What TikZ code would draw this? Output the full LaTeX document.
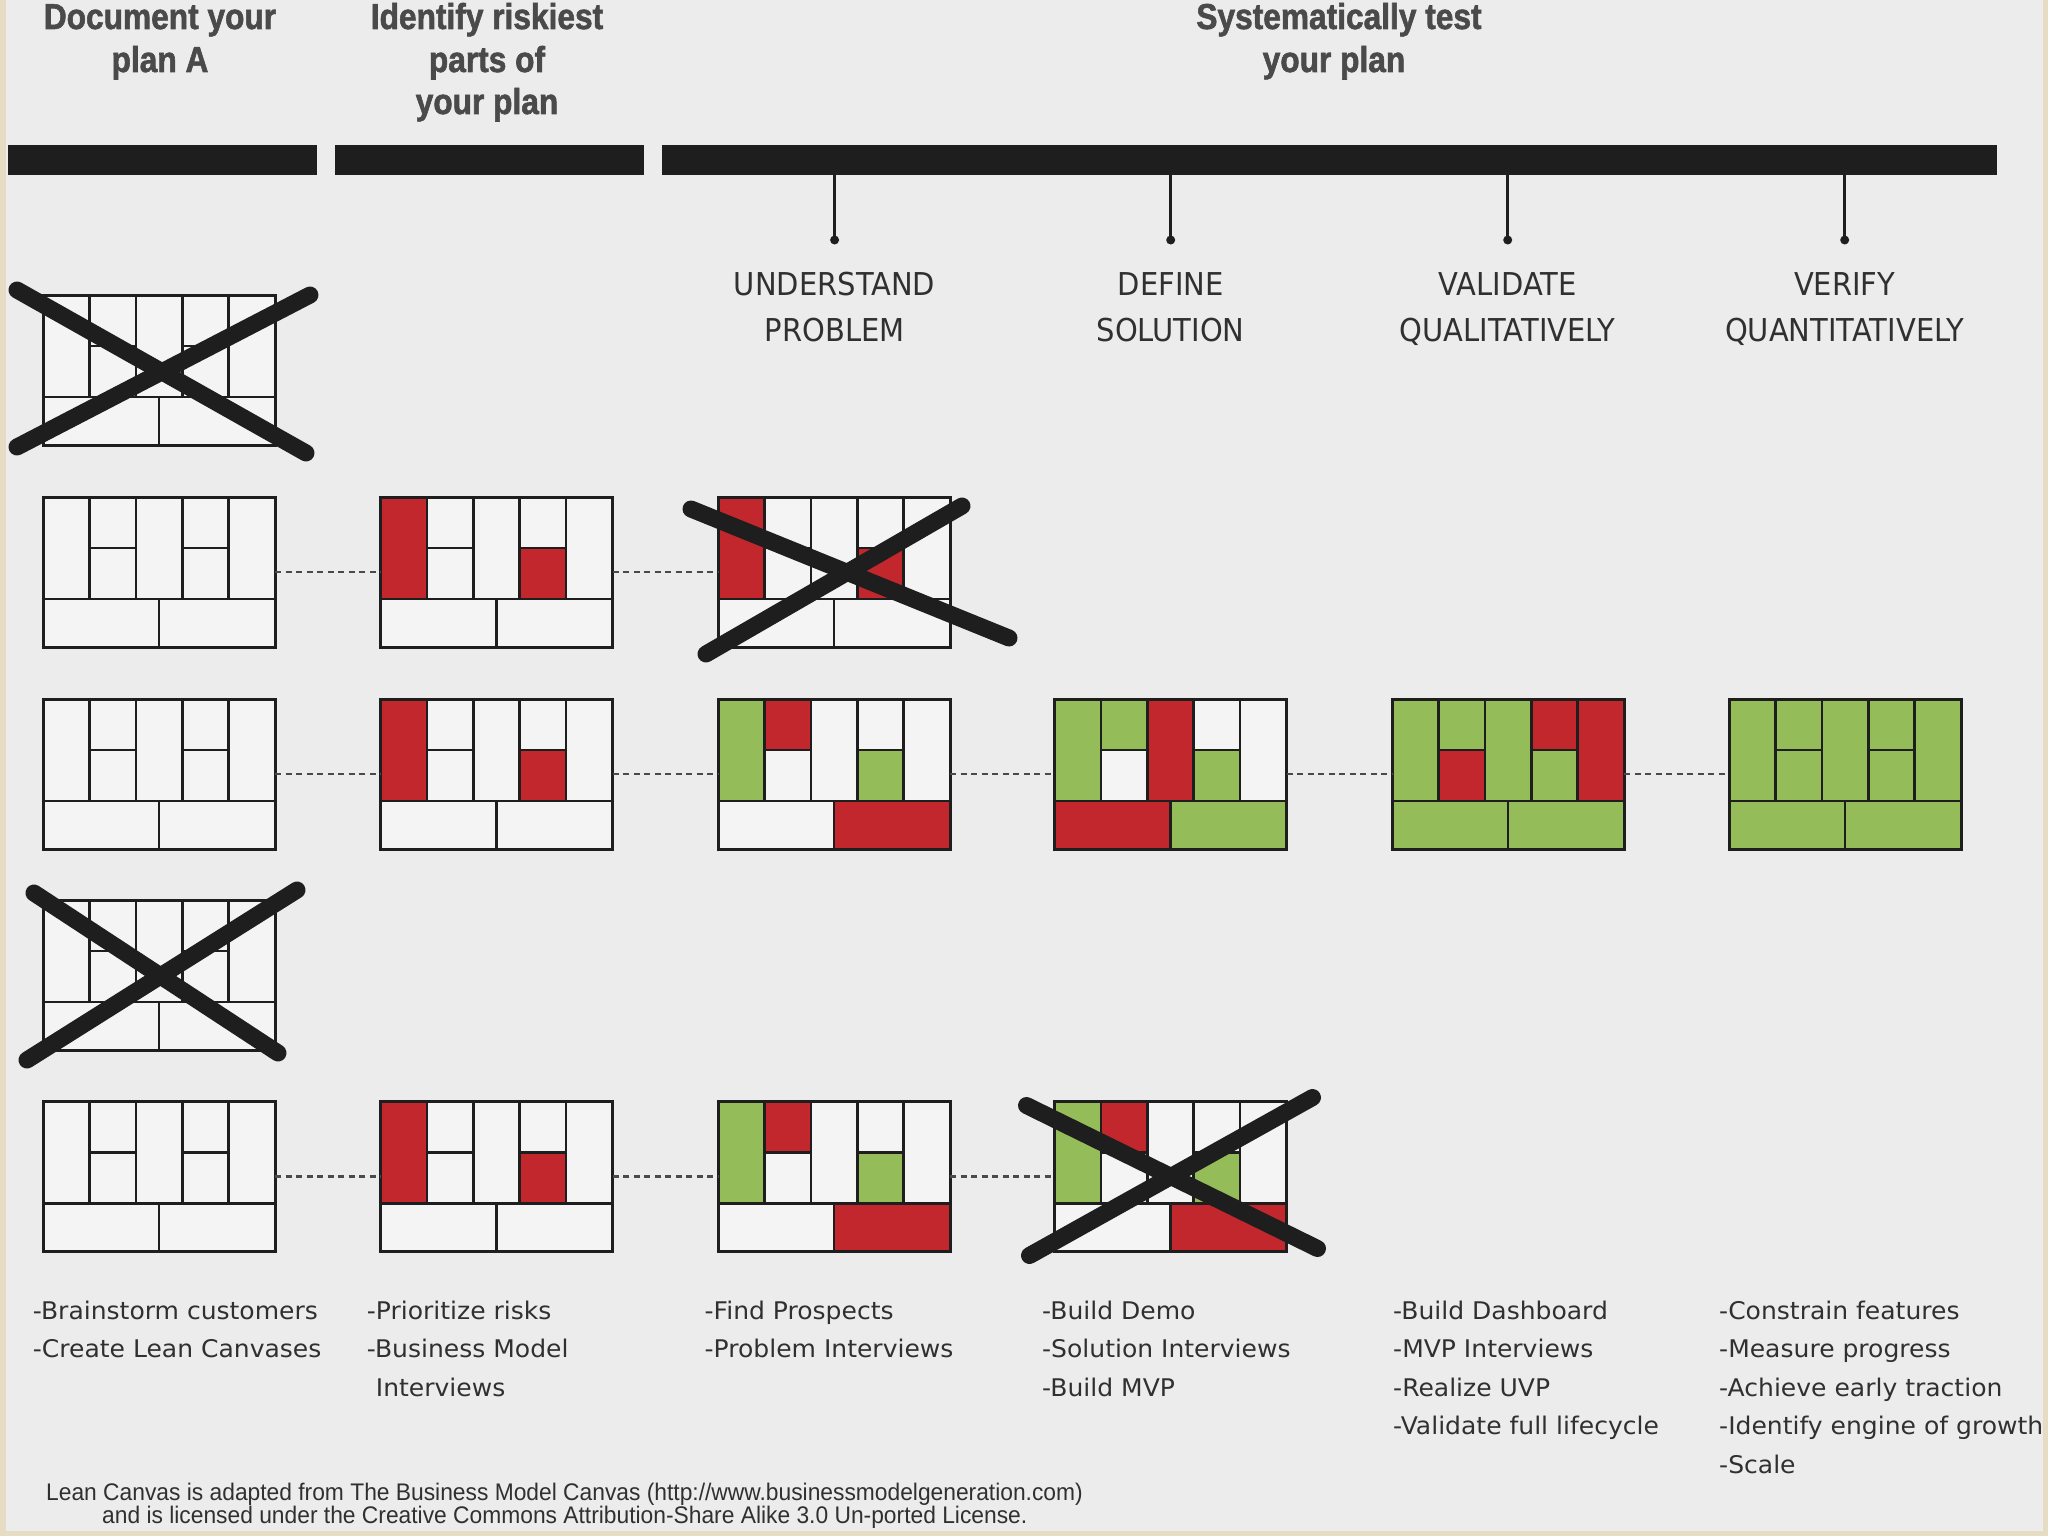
\documentclass[tikz,border=0pt]{standalone}
\usepackage{fontspec}
\newfontfamily\headfont{Liberation Sans}[FakeStretch=0.88,FakeBold=1.6]
\newfontfamily\labfont{DejaVu Sans}[FakeStretch=0.92]
\newfontfamily\listfont{DejaVu Sans}[FakeStretch=1.03]
\newfontfamily\notefont{Liberation Sans}[FakeStretch=0.95]
\definecolor{bg}{HTML}{ECECEC}
\definecolor{frame}{HTML}{E6DCC3}
\definecolor{cR}{HTML}{C1272D}
\definecolor{cG}{HTML}{94BD5A}
\definecolor{cW}{HTML}{F4F4F4}
\definecolor{ink}{HTML}{1E1E1E}
\definecolor{headgray}{HTML}{4A4A4A}
\definecolor{txt}{HTML}{303030}
\definecolor{dotgray}{HTML}{4A4A4A}
\tikzset{
  lcline/.style={draw=ink, line width=2.6pt},
  lcouter/.style={draw=ink, line width=3pt},
  lcbox/.style={inner sep=0pt, outer sep=0pt, minimum width=232pt, minimum height=150pt, fill=cW},
  conn/.style={draw=dotgray, line width=2.6pt, dash pattern=on 6pt off 4.5pt},
  xstroke/.style={draw=ink, line width=17pt, line cap=round},
  barbox/.style={fill=ink, inner sep=0pt, outer sep=0pt, minimum height=30pt},
  tickline/.style={draw=ink, line width=3pt},
  headtxt/.style={font=\headfont\bfseries\fontsize{36}{43}\selectfont, text=headgray, inner sep=0pt, anchor=base},
  labtxt/.style={font=\labfont\fontsize{31.5}{45}\selectfont, text=txt, inner sep=0pt, anchor=base},
  listtxt/.style={font=\listfont\fontsize{24.3}{38.5}\selectfont, text=txt, inner sep=0pt, anchor=base west},
  notetxt/.style={font=\notefont\fontsize{24}{23}\selectfont, text=txt, inner sep=0pt, anchor=base west},
}
\def\lcfill#1#2#3#4#5#6#7#8#9\relax{%
  \fill[c#1] (0,0) rectangle (46.4,102);
  \fill[c#2] (46.4,0) rectangle (92.8,51);
  \fill[c#3] (46.4,51) rectangle (92.8,102);
  \fill[c#4] (92.8,0) rectangle (139.2,102);
  \fill[c#5] (139.2,0) rectangle (185.6,51);
  \fill[c#6] (139.2,51) rectangle (185.6,102);
  \fill[c#7] (185.6,0) rectangle (232,102);
  \fill[c#8] (0,102) rectangle (116,150);
  \fill[c#9] (116,102) rectangle (232,150);
}
\newcommand\lc[4]{%
  \node[lcbox] (#1) at (#2,#3) {};
  \begin{scope}[shift={(#1.north west)}]
    \lcfill#4\relax
    \draw[lcline] (46.4,0)--(46.4,102) (92.8,0)--(92.8,102) (139.2,0)--(139.2,102)
      (185.6,0)--(185.6,102) (46.4,51)--(92.8,51) (139.2,51)--(185.6,51)
      (0,102)--(232,102) (116,102)--(116,150);
    \draw[lcouter] (0,0) rectangle (232,150);
  \end{scope}}
\begin{document}
\begin{tikzpicture}[x=1pt,y=-1pt]
\useasboundingbox (0,0) rectangle (2048,1536);
\fill[frame] (0,0) rectangle (2048,1536);
\fill[bg] (6,0) rectangle (2043,1531);

% header bars
\node[barbox, minimum width=309pt] (bar1) at (162.5,160) {};
\node[barbox, minimum width=309pt] (bar2) at (489.5,160) {};
\node[barbox, minimum width=1335pt] (bar3) at (1329,160) {};

% headers
\node[headtxt] (h1a) at (160,29) {Document your};
\node[headtxt] (h1b) at (160,72) {plan A};
\node[headtxt] (h2a) at (487,29) {Identify riskiest};
\node[headtxt] (h2b) at (487,72) {parts of};
\node[headtxt] (h2c) at (487,114) {your plan};
\node[headtxt] (h3a) at (1339,29) {Systematically test};
\node[headtxt] (h3b) at (1334,72) {your plan};

% ticks and stage labels
\foreach \x/\n/\a/\b in {834.6/1/UNDERSTAND/PROBLEM, 1170.7/2/DEFINE/SOLUTION, 1507.7/3/VALIDATE/QUALITATIVELY, 1844.7/4/VERIFY/QUANTITATIVELY}{
  \coordinate (t\n) at (\x,240);
  \draw[tickline] (t\n |- bar3.south) -- (t\n);
  \fill[ink] (t\n) circle (4.5);
  \node[labtxt] (s\n a) at (\x,295) {\a};
  \node[labtxt] (s\n b) at (\x,341) {\b};
}

% canvases
% order: col1, col2top, col2bot, col3, col4top, col4bot, col5, bottomleft, bottomright
\lc{r1c1}{159}{370}{WWWWWWWWW}
\lc{r2c1}{159}{572}{WWWWWWWWW}
\lc{r2c2}{496.5}{572}{RWWWWRWWW}
\lc{r2c3}{834}{572}{RWWWWRWWW}
\lc{r3c1}{159}{774}{WWWWWWWWW}
\lc{r3c2}{496.5}{774}{RWWWWRWWW}
\lc{r3c3}{834}{774}{GRWWWGWWR}
\lc{r3c4}{1170.5}{774}{GGWRWGWRG}
\lc{r3c5}{1508}{774}{GGRGRGRGG}
\lc{r3c6}{1845}{774}{GGGGGGGGG}
\lc{r4c1}{159}{975}{WWWWWWWWW}
\lc{r5c1}{159}{1176.5}{WWWWWWWWW}
\lc{r5c2}{496.5}{1176.5}{RWWWWRWWW}
\lc{r5c3}{834}{1176.5}{GRWWWGWWR}
\lc{r5c4}{1170.5}{1176.5}{GRWWWGWWR}

% dotted connectors
\draw[conn] (r2c1.east) -- (r2c2.west);
\draw[conn] (r2c2.east) -- (r2c3.west);
\draw[conn] (r3c1.east) -- (r3c2.west);
\draw[conn] (r3c2.east) -- (r3c3.west);
\draw[conn] (r3c3.east) -- (r3c4.west);
\draw[conn] (r3c4.east) -- (r3c5.west);
\draw[conn] (r3c5.east) -- (r3c6.west);
\draw[conn] (r5c1.east) -- (r5c2.west);
\draw[conn] (r5c2.east) -- (r5c3.west);
\draw[conn] (r5c3.east) -- (r5c4.west);

% crosses
\begin{scope}[shift={(r1c1.center)}]
  \draw[xstroke] (-142,-80) -- (147,83);
  \draw[xstroke] (-142,77) -- (151,-75);
\end{scope}
\begin{scope}[shift={(r2c3.center)}]
  \draw[xstroke] (-143,-63) -- (175,66);
  \draw[xstroke] (-128,82) -- (128,-66);
\end{scope}
\begin{scope}[shift={(r4c1.center)}]
  \draw[xstroke] (-125,-82) -- (119,78);
  \draw[xstroke] (-132,85) -- (138,-85);
\end{scope}
\begin{scope}[shift={(r5c4.center)}]
  \draw[xstroke] (-144,-71) -- (147,72);
  \draw[xstroke] (-141,79) -- (142,-79);
\end{scope}

% activity lists
\foreach \t [count=\i] in {-Brainstorm customers,-Create Lean Canvases}
  \node[listtxt] (la\i) at (32.7,{1319+38.5*(\i-1)}) {\t};
\foreach \t [count=\i] in {-Prioritize risks,-Business Model,\phantom{-}Interviews}
  \node[listtxt] (lb\i) at (366.7,{1319+38.5*(\i-1)}) {\t};
\foreach \t [count=\i] in {-Find Prospects,-Problem Interviews}
  \node[listtxt] (lc\i) at (704.5,{1319+38.5*(\i-1)}) {\t};
\foreach \t [count=\i] in {-Build Demo,-Solution Interviews,-Build MVP}
  \node[listtxt] (ld\i) at (1042,{1319+38.5*(\i-1)}) {\t};
\foreach \t [count=\i] in {-Build Dashboard,-MVP Interviews,-Realize UVP,-Validate full lifecycle}
  \node[listtxt] (le\i) at (1393,{1319+38.5*(\i-1)}) {\t};
\foreach \t [count=\i] in {-Constrain features,-Measure progress,-Achieve early traction,-Identify engine of growth,-Scale}
  \node[listtxt] (lf\i) at (1719,{1319+38.5*(\i-1)}) {\t};

% footnote
\node[notetxt] (n1) at (46,1500) {Lean Canvas is adapted from The Business Model Canvas (http://www.businessmodelgeneration.com)};
\node[notetxt] (n2) at (102,1523) {and is licensed under the Creative Commons Attribution-Share Alike 3.0 Un-ported License.};
\end{tikzpicture}
\end{document}
